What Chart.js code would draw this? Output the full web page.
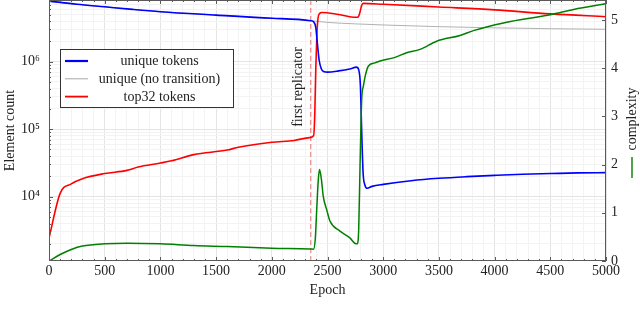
<!DOCTYPE html>
<html>
<head>
<meta charset="utf-8">
<script src="https://cdn.jsdelivr.net/npm/chart.js@4/dist/chart.umd.min.js"></script>
<style>
  html, body { margin: 0; padding: 0; background: #fff; }
  #wrap { width: 640px; height: 314px; position: relative; }
</style>
</head>
<body>
<div id="wrap"><canvas id="chart" width="640" height="314"></canvas></div>
<script>
// data
const uniqueEpochs = [0, 250, 500, 750, 1000, 1500, 2000, 2350, 2375, 2395, 2410, 2425, 2445, 2470, 2500, 2600, 2700, 2760, 2780, 2795, 2808, 2820, 2835, 2855, 2900, 3000, 3250, 3500, 3750, 4000, 4250, 4500, 4750, 5000];
const uniqueTokens = [7.9e6, 7.1e6, 6.5e6, 5.95e6, 5.5e6, 4.9e6, 4.4e6, 4.05e6, 3.9e6, 3.2e6, 1.8e6, 1.05e6, 7.8e5, 7.1e5, 7.0e5, 7.3e5, 7.8e5, 8.3e5, 7.6e5, 4.5e5, 8e4, 2.2e4, 1.5e4, 1.33e4, 1.42e4, 1.52e4, 1.72e4, 1.87e4, 1.98e4, 2.07e4, 2.15e4, 2.2e4, 2.25e4, 2.27e4];

const noTransEpochs = [0, 250, 500, 750, 1000, 1500, 2000, 2350, 2500, 2750, 3000, 3500, 4000, 4500, 5000];
const uniqueNoTransition = [7.9e6, 7.1e6, 6.5e6, 5.95e6, 5.5e6, 4.9e6, 4.4e6, 4.05e6, 3.82e6, 3.63e6, 3.5e6, 3.3e6, 3.17e6, 3.08e6, 3.02e6];

const top32Epochs = [0, 100, 200, 300, 500, 700, 800, 1000, 1100, 1300, 1600, 1700, 2000, 2200, 2340, 2375, 2385, 2395, 2405, 2415, 2430, 2450, 2600, 2755, 2775, 2790, 2805, 2820, 3000, 3500, 4000, 4500, 5000];
const top32Tokens = [2440, 1.12e4, 1.55e4, 1.85e4, 2.2e4, 2.45e4, 2.75e4, 3.15e4, 3.4e4, 4.2e4, 4.9e4, 5.4e4, 6.4e4, 6.8e4, 7.5e4, 8.0e4, 1.5e5, 8e5, 2.6e6, 4.4e6, 5.2e6, 5.35e6, 5.0e6, 4.55e6, 4.6e6, 5.3e6, 6.7e6, 7.3e6, 7.1e6, 6.45e6, 5.85e6, 5.1e6, 4.64e6];

const complexityEpochs = [0, 100, 200, 300, 500, 700, 1000, 1300, 1600, 2000, 2340, 2375, 2390, 2405, 2418, 2428, 2445, 2462, 2492, 2522, 2612, 2701, 2755, 2768, 2780, 2792, 2807, 2822, 2840, 2866, 2926, 2971, 3100, 3210, 3330, 3480, 3690, 3810, 4080, 4300, 4500, 4710, 5000];
const complexity = [0.0, 0.135, 0.24, 0.31, 0.357, 0.37, 0.357, 0.32, 0.30, 0.265, 0.25, 0.245, 0.45, 1.15, 1.7, 1.9, 1.7, 1.34, 1.07, 0.83, 0.62, 0.48, 0.36, 0.36, 0.65, 1.97, 3.35, 3.63, 3.85, 4.04, 4.11, 4.15, 4.22, 4.32, 4.39, 4.56, 4.68, 4.78, 4.94, 5.03, 5.11, 5.22, 5.34];

const replicatorEpoch = 2350;
const epochMin = 0, epochMax = 5000;
const countMin = 1114, countMax = 8.2e6;
const complexityMin = 0, complexityMax = 5.415;
const complexityTicks = [0, 1, 2, 3, 4, 5];
const countDecades = [3, 4, 5, 6];
const superscripts = ['⁰', '¹', '²', '³', '⁴', '⁵', '⁶', '⁷', '⁸', '⁹'];

const FONT = "'Liberation Serif', 'DejaVu Serif', serif";
const majorGrid = '#e4e4e4';
const minorGrid = '#f3f3f3';

const toPoints = (xs, ys) => xs.map((x, i) => ({ x: x, y: ys[i] }));

// log ticks 1..9 x 10^n inside the axis range
const countTicks = [];
countDecades.forEach(e => {
    for (let m = 1; m <= 9; m++) {
        const v = m * Math.pow(10, e);
        if (v >= countMin && v <= countMax) countTicks.push(v);
    }
});
const isDecade = v => Math.abs(Math.log10(v) - Math.round(Math.log10(v))) < 1e-9;

// fixed box sizes so the plot area lands where the figure has it
const fixBox = size => s => {
    if (s.isHorizontal()) s.height = size; else s.width = size;
    s.paddingTop = 0; s.paddingBottom = 0; s.paddingLeft = 0; s.paddingRight = 0;
};

Chart.defaults.font.family = FONT;
Chart.defaults.font.size = 14;
Chart.defaults.color = '#222';

// frame, inward ticks, legend box and the extra labels
const extras = {
    id: 'extras',
    afterDraw(chart) {
        const { ctx, chartArea: a, scales } = chart;
        ctx.save();
        ctx.strokeStyle = '#5a5a5a';
        ctx.lineWidth = 1;
        ctx.beginPath();
        scales.x.ticks.forEach(t => {
            const px = Math.round(scales.x.getPixelForValue(t.value)) + 0.5;
            const len = t.value % 500 === 0 ? 4 : 2;
            ctx.moveTo(px, a.bottom); ctx.lineTo(px, a.bottom - len);
            ctx.moveTo(px, a.top); ctx.lineTo(px, a.top + len);
        });
        scales.y.ticks.forEach(t => {
            const py = Math.round(scales.y.getPixelForValue(t.value)) + 0.5;
            const len = isDecade(t.value) ? 4 : 2;
            ctx.moveTo(a.left, py); ctx.lineTo(a.left + len, py);
        });
        scales.y1.ticks.forEach(t => {
            const py = Math.round(scales.y1.getPixelForValue(t.value)) + 0.5;
            ctx.moveTo(a.right, py); ctx.lineTo(a.right - 4, py);
        });
        ctx.stroke();
        ctx.strokeRect(a.left + 0.5, a.top + 0.5, a.right - a.left - 1, a.bottom - a.top - 1);

        // legend box
        const bx = 60.5, by = 49.5, bw = 173, bh = 58;
        ctx.fillStyle = '#fff';
        ctx.fillRect(bx, by, bw, bh);
        ctx.strokeStyle = '#333';
        ctx.strokeRect(bx, by, bw, bh);
        ctx.font = '14px ' + FONT;
        ctx.textAlign = 'center';
        ctx.textBaseline = 'middle';
        chart.data.datasets.filter(d => d.inBox).forEach((d, i) => {
            const ly = 61 + i * 17.8;
            ctx.strokeStyle = d.borderColor;
            ctx.lineWidth = d.boxWidth;
            ctx.beginPath();
            ctx.moveTo(65, ly); ctx.lineTo(88, ly);
            ctx.stroke();
            ctx.fillStyle = '#222';
            ctx.fillText(d.label, 159.5, ly + 0.5);
        });

        // first replicator label
        const rx = scales.x.getPixelForValue(replicatorEpoch);
        ctx.save();
        ctx.translate(rx - 8.5, 87);
        ctx.rotate(-Math.PI / 2);
        ctx.textAlign = 'center';
        ctx.textBaseline = 'alphabetic';
        ctx.fillStyle = '#222';
        ctx.fillText('first replicator', 0, 0);
        ctx.restore();

        // right axis title with its line marker
        ctx.save();
        ctx.translate(636, 130);
        ctx.rotate(-Math.PI / 2);
        ctx.textAlign = 'center';
        ctx.textBaseline = 'alphabetic';
        ctx.fillStyle = '#222';
        ctx.fillText('complexity', 11, 0);
        ctx.strokeStyle = '#008000';
        ctx.lineWidth = 1.4;
        ctx.beginPath();
        ctx.moveTo(-48, -4); ctx.lineTo(-27, -4);
        ctx.stroke();
        ctx.restore();

        ctx.restore();
    }
};

new Chart(document.getElementById('chart'), {
    type: 'line',
    data: {
        datasets: [
            {
                label: 'unique tokens',
                data: toPoints(uniqueEpochs, uniqueTokens),
                borderColor: '#0000ff', borderWidth: 1.6, boxWidth: 2.2, inBox: true,
                yAxisID: 'y', order: 2
            },
            {
                label: 'unique (no transition)',
                data: toPoints(noTransEpochs, uniqueNoTransition),
                borderColor: '#a8a8a8', borderWidth: 0.9, boxWidth: 1, inBox: true,
                yAxisID: 'y', order: 5
            },
            {
                label: 'top32 tokens',
                data: toPoints(top32Epochs, top32Tokens),
                borderColor: '#ff0000', borderWidth: 1.6, boxWidth: 1.8, inBox: true,
                yAxisID: 'y', order: 3
            },
            {
                label: 'complexity',
                data: toPoints(complexityEpochs, complexity),
                borderColor: '#008000', borderWidth: 1.5,
                yAxisID: 'y1', order: 1
            },
            {
                label: 'first replicator',
                data: [{ x: replicatorEpoch, y: countMin }, { x: replicatorEpoch, y: countMax }],
                borderColor: '#e46a6a', borderWidth: 1, borderDash: [5, 3],
                yAxisID: 'y', order: 6
            }
        ]
    },
    options: {
        responsive: false,
        animation: false,
        layout: { padding: 0 },
        elements: {
            point: { radius: 0 },
            line: { cubicInterpolationMode: 'monotone', fill: false }
        },
        plugins: { legend: { display: false }, tooltip: { enabled: false } },
        scales: {
            x: {
                type: 'linear', min: epochMin, max: epochMax,
                ticks: {
                    stepSize: 100, autoSkip: false, maxRotation: 0, padding: 2,
                    callback: v => (v % 500 === 0 ? String(v) : '')
                },
                grid: { drawTicks: false, color: c => (c.tick && c.tick.value % 500 === 0 ? majorGrid : minorGrid) },
                border: { display: false },
                title: { display: true, text: 'Epoch', padding: { top: 0, bottom: 15 } },
                afterFit: fixBox(53)
            },
            y: {
                type: 'logarithmic', position: 'left', min: countMin, max: countMax,
                afterBuildTicks: s => { s.ticks = countTicks.map(v => ({ value: v })); },
                ticks: {
                    autoSkip: false, padding: 9,
                    callback: v => (isDecade(v) ? '10' + superscripts[Math.round(Math.log10(v))] : '')
                },
                grid: { drawTicks: false, color: c => (c.tick && isDecade(c.tick.value) ? majorGrid : minorGrid) },
                border: { display: false },
                title: { display: true, text: 'Element count', padding: { top: 2, bottom: 0 } },
                afterFit: fixBox(49)
            },
            y1: {
                type: 'linear', position: 'right', min: complexityMin, max: complexityMax,
                afterBuildTicks: s => { s.ticks = complexityTicks.map(v => ({ value: v })); },
                ticks: { padding: 5 },
                grid: { display: false, drawTicks: false },
                border: { display: false },
                afterFit: fixBox(34)
            }
        }
    },
    plugins: [extras]
});
</script>
</body>
</html>
